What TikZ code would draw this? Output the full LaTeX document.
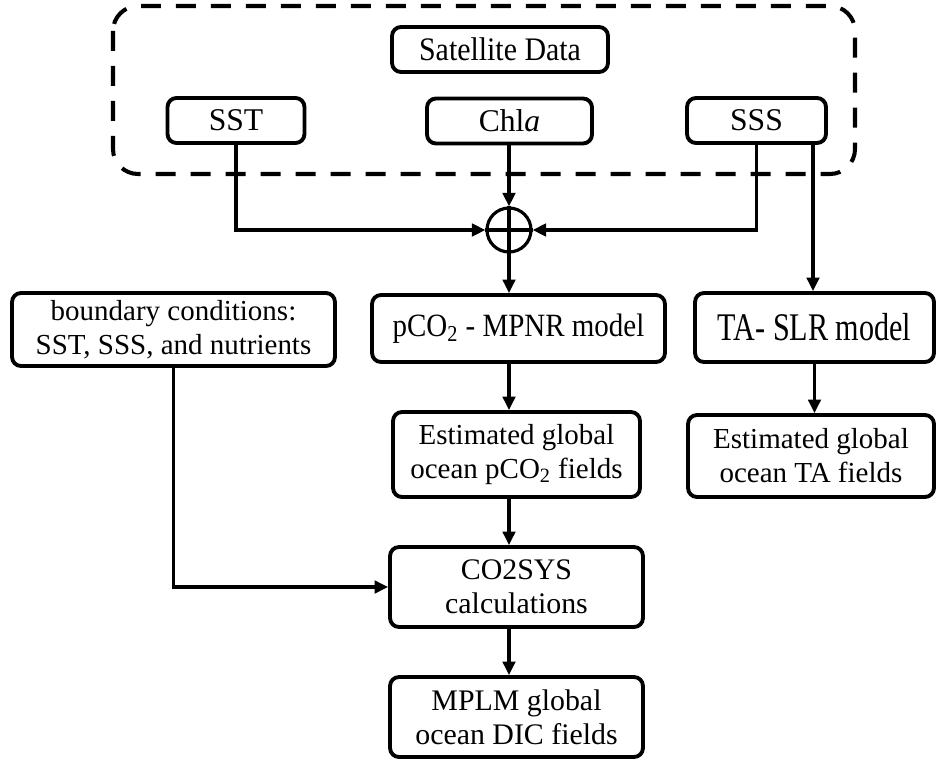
\documentclass[tikz,border=0pt]{standalone}
\usepackage{fontspec}
\setmainfont{Liberation Serif}
\usetikzlibrary{arrows.meta}
\tikzset{
  databox/.style={draw, line width=2.2pt, rounded corners=0.18cm, align=center, inner sep=0pt, font=\fontsize{16.5}{19.3}\selectfont},
  topbox/.style={databox, minimum height=0.9cm, font=\fontsize{18}{20}\selectfont},
  flow/.style={line width=1.8pt, -{Triangle[length=0.27cm,width=0.25cm]}},
  link/.style={line width=1.8pt}
}
\begin{document}
\begin{tikzpicture}[x=0.02cm,y=-0.02cm]
    \useasboundingbox (0,0) rectangle (937,761);
    \draw[line width=2.3pt, dash pattern=on 0.4cm off 0.3cm, rounded corners=0.5cm] (113,6) rectangle (855,174);  %Rahmen Satellitendaten
    \node[databox, minimum width=4.32cm, minimum height=0.9cm] (sat) at (500,49.5) {\scalebox{1}[1.1]{\fontsize{17}{19}\selectfont Satellite Data}};
    \node[topbox, minimum width=2.74cm] (sst) at (236,120.5) {SST};
    \node[topbox, minimum width=3.3cm] (chla) at (509.5,121) {Chl\textit{a}};
    \node[topbox, minimum width=2.78cm] (sss) at (756.5,120.5) {SSS};
    \node[databox, minimum width=6.46cm, minimum height=1.46cm] (bnd) at (173.5,329.5) {boundary conditions:\\SST, SSS, and nutrients};
    \node[databox, minimum width=5.86cm, minimum height=1.34cm] (mpnr) at (518.5,328.5) {\scalebox{1}[1.12]{pCO\textsubscript{2} - MPNR model}};
    \node[databox, minimum width=4.78cm, minimum height=1.38cm] (ta) at (814.5,327.5) {\scalebox{1.04}[1.35]{TA- SLR model}};
    \node[databox, minimum width=4.94cm, minimum height=1.7cm] (estp) at (516.5,454.5) {Estimated global\\ocean pCO\textsubscript{2} fields};
    \node[databox, minimum width=4.92cm, minimum height=1.64cm] (estta) at (811,456) {Estimated global\\ocean TA fields};
    \node[databox, minimum width=5.06cm, minimum height=1.6cm, font=\fontsize{17}{19.5}\selectfont] (co2sys) at (516.5,587) {CO2SYS\\calculations};
    \node[databox, minimum width=5.06cm, minimum height=1.6cm, font=\fontsize{17}{19.5}\selectfont] (mplm) at (516.5,717) {MPLM global\\ocean DIC fields};
    \node[circle, draw, line width=1.8pt, minimum size=0.88cm, inner sep=0pt] (sum) at (509,230) {};  %Summenpunkt
    \draw[link] (sum.north) -- (sum.south);
    \draw[link] (sum.west) -- (sum.east);
    \coordinate (sssR) at (813,141);  %zweiter Abgang SSS
    \draw[flow] (chla.south -| sum.north) -- (sum.north);
    \draw[flow] (sst.south) |- (sum.west);
    \draw[flow] (sss.south) |- (sum.east);
    \draw[flow] (sum.south) -- (sum.south |- mpnr.north);
    \draw[flow] (sssR) -- (sssR |- ta.north);
    \draw[flow] (mpnr.south -| sum.south) -- (estp.north -| sum.south);
    \draw[flow] (ta.south) -- (ta.south |- estta.north);
    \draw[flow] (estp.south -| sum.south) -- (co2sys.north -| sum.south);
    \draw[flow] (bnd.south) |- (co2sys.west);
    \draw[flow] (co2sys.south -| sum.south) -- (mplm.north -| sum.south);
\end{tikzpicture}
\end{document}
